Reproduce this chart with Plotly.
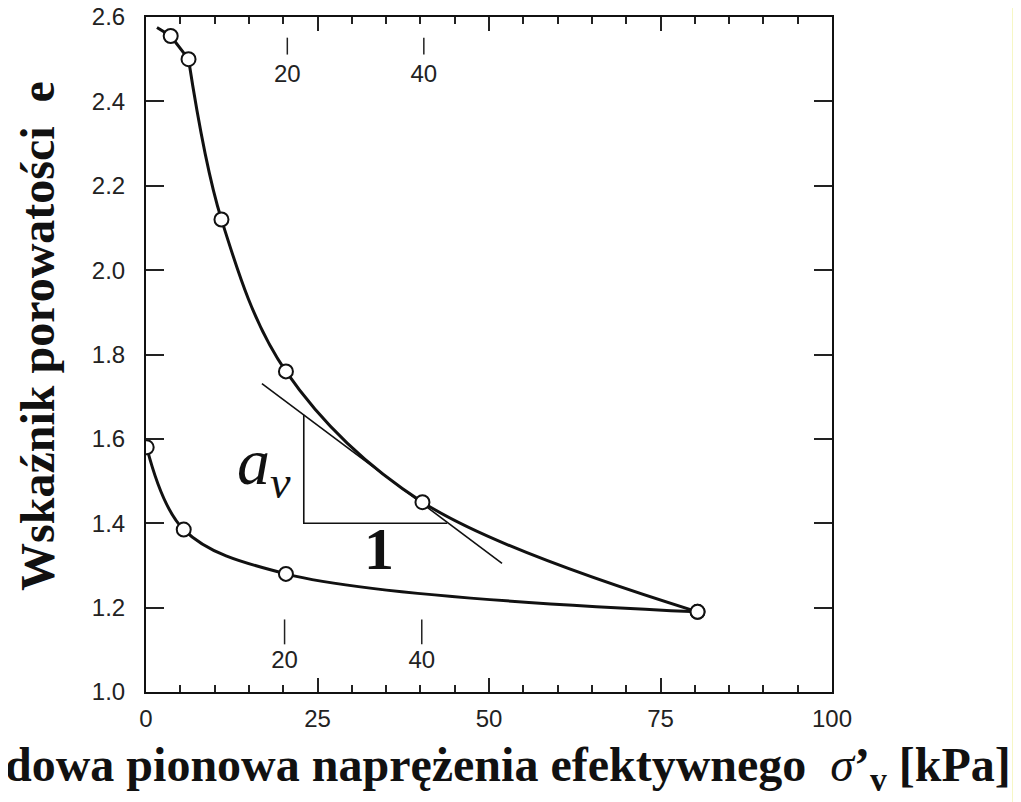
import plotly.graph_objects as go

# ---- data ----
loading_x = [1.6, 3.6, 6.2, 11.0, 20.4, 40.3, 80.4]
loading_e = [2.575, 2.555, 2.50, 2.12, 1.76, 1.45, 1.19]
loading_pts_x = [3.6, 6.2, 11.0, 20.4, 40.3, 80.4]
loading_pts_e = [2.555, 2.50, 2.12, 1.76, 1.45, 1.19]

unloading_x = [0.1, 5.5, 20.4, 80.4]
unloading_e = [1.58, 1.385, 1.28, 1.19]

tangent_x = [16.9, 51.9]
tangent_e = [1.731, 1.305]

triangle_x = [23.0, 23.0, 43.9]
triangle_e = [1.657, 1.40, 1.40]

top_mark_x = [20.6, 40.5]
top_mark_e = [2.551, 2.511]
top_mark_label_e = 2.460
bottom_mark_x = [20.2, 40.2]
bottom_mark_e = [1.172, 1.113]
bottom_mark_label_e = 1.070
mark_labels = ["20", "40"]

x_ticks = [0, 25, 50, 75, 100]
y_ticks = [1.0, 1.2, 1.4, 1.6, 1.8, 2.0, 2.2, 2.4, 2.6]

y_title = "Wskaźnik porowatości&nbsp;&nbsp;e"
x_title = ("dowa pionowa naprężenia efektywnego&nbsp;&nbsp;"
           "<span style='font-weight:normal'><i>σ</i></span>’<sub>v</sub> [kPa]")

serif = "Liberation Serif, Times New Roman, serif"
sans = "Liberation Sans, Arial, sans-serif"
ink = "#111"

fig = go.Figure()

# loading branch: straight start, then smooth curve
fig.add_trace(go.Scatter(x=loading_x[:3], y=loading_e[:3], mode="lines",
                         line=dict(color=ink, width=3),
                         hoverinfo="skip", showlegend=False))
fig.add_trace(go.Scatter(x=loading_x[2:], y=loading_e[2:], mode="lines",
                         line=dict(color=ink, width=3, shape="spline", smoothing=1.0),
                         hoverinfo="skip", showlegend=False))
# unloading branch
fig.add_trace(go.Scatter(x=unloading_x, y=unloading_e, mode="lines",
                         line=dict(color=ink, width=3, shape="spline", smoothing=1.0),
                         hoverinfo="skip", showlegend=False))
fig.add_trace(go.Scatter(x=tangent_x, y=tangent_e, mode="lines",
                         line=dict(color=ink, width=1.6),
                         hoverinfo="skip", showlegend=False))
fig.add_trace(go.Scatter(x=triangle_x, y=triangle_e, mode="lines",
                         line=dict(color=ink, width=1.6),
                         hoverinfo="skip", showlegend=False))

circle = dict(symbol="circle", size=14, color="white", line=dict(color=ink, width=2))
fig.add_trace(go.Scatter(x=loading_pts_x, y=loading_pts_e, mode="markers",
                         marker=circle, showlegend=False))
fig.add_trace(go.Scatter(x=unloading_x, y=unloading_e, mode="markers",
                         marker=circle, showlegend=False))

# inner reference marks with labels
for mx in top_mark_x:
    fig.add_trace(go.Scatter(x=[mx, mx], y=top_mark_e, mode="lines",
                             line=dict(color="#222", width=1.5), showlegend=False, hoverinfo="skip"))
for mx in bottom_mark_x:
    fig.add_trace(go.Scatter(x=[mx, mx], y=bottom_mark_e, mode="lines",
                             line=dict(color="#222", width=1.5), showlegend=False, hoverinfo="skip"))
fig.add_trace(go.Scatter(x=top_mark_x, y=[top_mark_label_e] * 2, mode="text", text=mark_labels,
                         textfont=dict(family=sans, size=24, color="#222"), showlegend=False))
fig.add_trace(go.Scatter(x=bottom_mark_x, y=[bottom_mark_label_e] * 2, mode="text", text=mark_labels,
                         textfont=dict(family=sans, size=24, color="#222"), showlegend=False))

# invisible trace to carry the top tick axis
fig.add_trace(go.Scatter(x=[x_ticks[0]], y=[y_ticks[0]], xaxis="x2", mode="markers",
                         marker=dict(opacity=0), hoverinfo="skip", showlegend=False))

# a_v and 1 labels
fig.add_annotation(x=21.5, y=1.535, xref="x", yref="y", text="<i>a<sub>v</sub></i>",
                   showarrow=False, xanchor="right", yanchor="middle",
                   font=dict(family=serif, size=66, color=ink))
fig.add_annotation(x=33.9, y=1.338, xref="x", yref="y", text="<b>1</b>",
                   showarrow=False, xanchor="center", yanchor="middle",
                   font=dict(family=serif, size=60, color=ink))

# axis titles
fig.add_annotation(x=-0.158, y=0.527, xref="paper", yref="paper", text="<b>" + y_title + "</b>",
                   textangle=-90, showarrow=False, xanchor="center", yanchor="middle",
                   font=dict(family=serif, size=48, color=ink))
fig.add_annotation(x=0.5277, y=-0.112, xref="paper", yref="paper", text="<b>" + x_title + "</b>",
                   showarrow=False, xanchor="center", yanchor="middle",
                   font=dict(family=serif, size=48, color=ink))

# scan edge strip
fig.add_shape(type="rect", xref="paper", yref="paper", x0=1.2624, x1=1.3, y0=-0.2, y1=1.1,
              fillcolor="#f6f7c4", line=dict(width=0), layer="below")

tick_style = dict(ticks="inside", ticklen=14, tickwidth=1.8, tickcolor="#222",
                  minor=dict(dtick=5, ticks="inside", ticklen=7, tickwidth=1.8, tickcolor="#222",
                             showgrid=False))

fig.update_layout(
    xaxis=dict(range=[0, 100], tickvals=x_ticks, showline=True, linecolor=ink, linewidth=2,
               mirror=True, showgrid=False, zeroline=False, ticklabelstandoff=4, automargin=False,
               ticklabeloverflow="allow",
               tickfont=dict(family=sans, size=24, color="#222"), **tick_style),
    xaxis2=dict(range=[0, 100], tickvals=x_ticks, overlaying="x", side="top", anchor="y",
                showticklabels=False, showline=False, showgrid=False, zeroline=False,
                automargin=False, **tick_style),
    yaxis=dict(range=[1.0, 2.6], tickvals=y_ticks, ticktext=[f"{v:.1f}" for v in y_ticks],
               ticks="inside", ticklen=18, tickwidth=1.5, tickcolor="#222",
               showline=True, linecolor=ink, linewidth=2, mirror="ticks",
               showgrid=False, zeroline=False, ticklabelstandoff=14, automargin=False,
               ticklabeloverflow="allow",
               tickfont=dict(family=sans, size=24, color="#222")),
    width=1021, height=802, paper_bgcolor="white", plot_bgcolor="white",
    margin=dict(l=138, r=197, t=9, b=118), showlegend=False,
)

fig.write_html("out.html")
